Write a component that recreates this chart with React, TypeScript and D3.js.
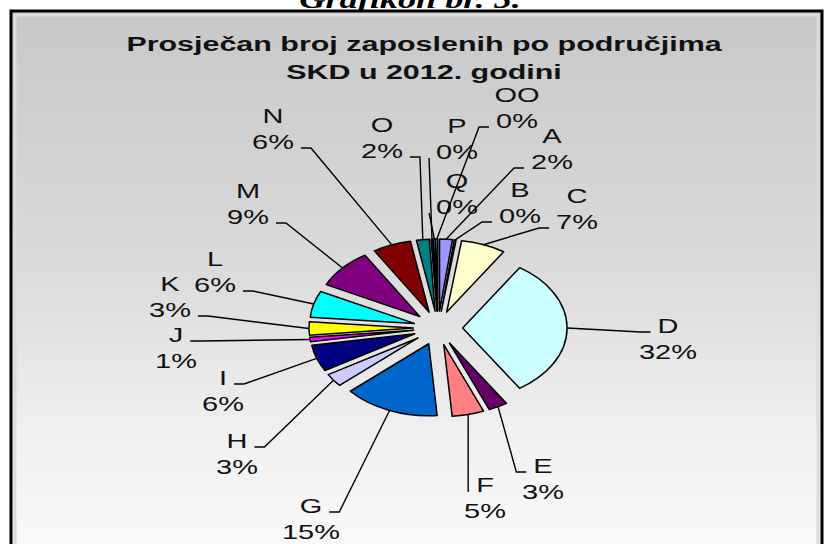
import { useEffect, useRef } from 'react'
import * as d3 from 'd3'

// areas of SKD, clockwise from 12 o'clock
const categories = ['A', 'B', 'C', 'D', 'E', 'F', 'G', 'H', 'I', 'J', 'K', 'L', 'M', 'N', 'O', 'P', 'Q', 'OO']
// share of employees (%), the 0% ones are tiny but not empty
const shares = [2, 0.3, 7, 32, 3, 5, 15, 3, 6, 1, 3, 6, 9, 6, 2, 0.3, 0.3, 0.3]
// old excel chart palette
const sliceColors = [
    '#9999ff', '#993366', '#ffffcc', '#ccffff', '#660066', '#ff8080', '#0066cc', '#ccccff', '#000080',
    '#ff00ff', '#ffff00', '#00ffff', '#800080', '#800000', '#008080', '#0000ff', '#00ccff', '#ccffff',
]
// labels were dragged by hand in the original: [center x, baseline of name]
const labelAnchors: [number, number][] = [
    [552, 143], [520, 197], [577, 203], [668, 333], [543, 473], [485, 492], [311, 513], [237, 448], [223, 385],
    [176, 342], [170, 291], [215, 266], [248, 198], [273, 123], [382, 132], [457, 133], [457, 188], [517, 102],
]

const titleLines = ['Prosječan broj zaposlenih po područjima', 'SKD u 2012. godini']

// the scanned picture is stretched sideways
const SX = 1.45

function drawChart(el: SVGSVGElement) {
    const svg = d3.select(el)
    svg.selectAll('*').remove()

    const defs = svg.append('defs')
    const grad = defs.append('linearGradient').attr('id', 'bg').attr('x1', 0).attr('y1', 0).attr('x2', 0).attr('y2', 1)
    grad.append('stop').attr('offset', 0).attr('stop-color', '#c8c8c8')
    grad.append('stop').attr('offset', 0.45).attr('stop-color', '#dadada')
    grad.append('stop').attr('offset', 0.75).attr('stop-color', '#f0f0f0')
    grad.append('stop').attr('offset', 1).attr('stop-color', '#fbfbfb')

    // caption above the frame, mostly cut off
    svg.append('text')
        .attr('transform', `translate(410,8) scale(${SX},1)`)
        .attr('text-anchor', 'middle')
        .attr('font-family', '"Liberation Serif", "Times New Roman", serif')
        .attr('font-style', 'italic')
        .attr('font-weight', 'bold')
        .attr('font-size', 25)
        .text('Grafikon br. 5.')

    svg.append('rect')
        .attr('x', 11).attr('y', 11).attr('width', 811).attr('height', 560)
        .attr('fill', 'url(#bg)')
        .attr('stroke', '#000').attr('stroke-width', 3)
    svg.append('rect')
        .attr('x', 15).attr('y', 15).attr('width', 803).attr('height', 560)
        .attr('fill', 'none')
        .attr('stroke', '#dcdcdc').attr('stroke-width', 3)

    titleLines.forEach((t, i) => {
        svg.append('text')
            .attr('transform', `translate(424,${51 + i * 28}) scale(${SX},1)`)
            .attr('text-anchor', 'middle')
            .attr('font-family', '"Liberation Sans", Arial, sans-serif')
            .attr('font-weight', 'bold')
            .attr('font-size', 21)
            .attr('fill', '#111')
            .text(t)
    })

    const cx = 438, cy = 328, r = 72, explode = 17
    const total = d3.sum(shares)

    const pie = d3.pie<number>().sort(null).value(d => d)
    const arcs = pie(shares)
    const arc = d3.arc<d3.PieArcDatum<number>>().innerRadius(0).outerRadius(r)

    const g = svg.append('g').attr('transform', `translate(${cx},${cy}) scale(${SX},1)`)
    g.selectAll('path')
        .data(arcs)
        .enter()
        .append('path')
        .attr('transform', d => {
            const m = (d.startAngle + d.endAngle) / 2
            return `translate(${explode * Math.sin(m)},${-explode * Math.cos(m)})`
        })
        .attr('d', arc)
        .attr('fill', (d, i) => sliceColors[i])
        .attr('stroke', '#000')
        .attr('stroke-width', 1.5)
        .attr('stroke-linejoin', 'round')
        .attr('vector-effect', 'non-scaling-stroke')

    const labels = svg.append('g')
        .attr('font-family', '"Liberation Sans", Arial, sans-serif')
        .attr('font-size', 20)
        .attr('fill', '#111')
    const leaders = svg.append('g')
        .attr('fill', 'none')
        .attr('stroke', '#000')
        .attr('stroke-width', 1.4)

    arcs.forEach((d, i) => {
        const [lx, ly] = labelAnchors[i]
        const pct = Math.round(d.data / total * 100) + '%'
        const nameT = labels.append('text')
            .attr('transform', `translate(${lx},${ly}) scale(${SX},1)`)
            .attr('text-anchor', 'middle')
            .text(categories[i])
        const pctT = labels.append('text')
            .attr('transform', `translate(${lx},${ly + 26}) scale(${SX},1)`)
            .attr('text-anchor', 'middle')
            .text(pct)

        // where the leader meets the slice
        const m = (d.startAngle + d.endAngle) / 2
        const sx = cx + (explode + r) * Math.sin(m) * SX
        const sy = cy - (explode + r) * Math.cos(m)

        const usePct = ly + 26 <= sy
        const rowY = (usePct ? ly + 26 : ly) - 1
        const w = ((usePct ? pctT : nameT).node() as SVGTextElement).getComputedTextLength() * SX
        const isLeft = lx < sx
        const edge = isLeft ? lx + w / 2 + 7 : lx - w / 2 - 7
        const elbow = isLeft
            ? edge + Math.max(0, Math.min(10, sx - edge))
            : edge - Math.max(0, Math.min(10, edge - sx))

        leaders.append('path')
            .attr('d', d3.line()([[edge, rowY], [elbow, rowY], [sx, sy]]))
    })
}

const App = () => {
    const ref = useRef<SVGSVGElement>(null)
    useEffect(() => {
        if (ref.current) drawChart(ref.current)
    }, [])

    return (
        <svg ref={ref} width={825} height={544} style={{ position: 'absolute', left: 0, top: 0, background: '#fff' }} />
    )
}

export default App
